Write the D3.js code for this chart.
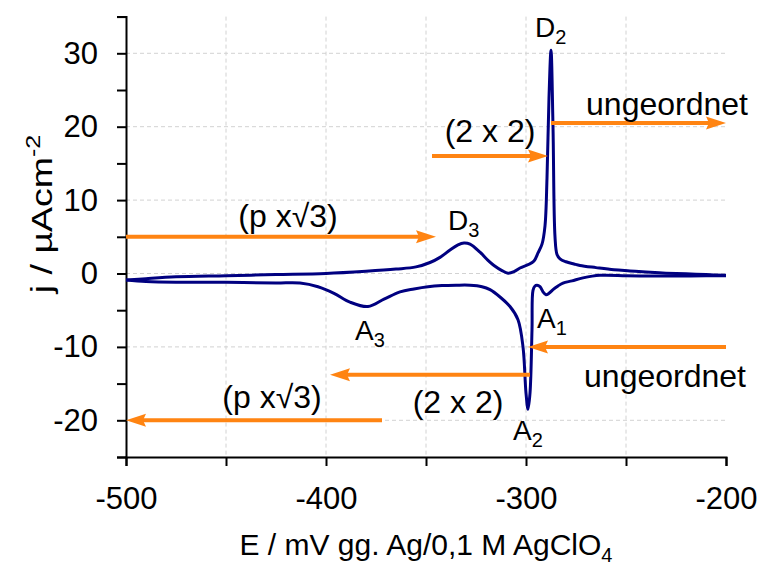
<!DOCTYPE html>
<html>
<head>
<meta charset="utf-8">
<script src="https://cdn.jsdelivr.net/npm/d3@7"></script>
<style>
  body { margin: 0; background: #fff; }
  svg { display: block; }
  text { font-family: "Liberation Sans", Arial, sans-serif; fill: #000; }
</style>
</head>
<body>
<svg id="chart" width="758" height="566"></svg>
<script>
// anodic sweep (-500 -> -200)
const anodicE = [-500, -490, -475, -450, -425, -400, -380, -365, -355, -348, -343, -338, -334, -331, -328, -323, -319, -316, -312, -309, -306, -303, -299, -296, -294, -292, -290.5, -289.5, -288.5, -287.5, -286.5, -285.5, -284.5, -283, -280, -276, -273, -265, -256, -248, -240, -230, -220, -210, -200]
const anodicJ = [-0.9, -0.7, -0.45, -0.3, -0.15, 0, 0.3, 0.6, 0.9, 1.5, 2.2, 3.2, 3.9, 4.15, 4.0, 2.9, 1.8, 1.1, 0.4, 0.05, 0.25, 0.75, 1.2, 1.7, 2.8, 4.0, 6.5, 13, 24, 30.4, 20, 5, 2.6, 2.0, 1.6, 1.3, 1.1, 0.8, 0.5, 0.35, 0.2, 0.05, -0.05, -0.15, -0.25]

// cathodic sweep (-200 -> -500)
const cathodicE = [-200, -210, -220, -230, -240, -250, -263, -271.5, -277, -281.5, -284, -286.5, -288.5, -290, -291.5, -293, -294.5, -295.5, -296.5, -297, -298, -299, -300, -301.5, -304, -308, -313, -318, -322, -328, -335, -342, -349, -356, -363, -371, -379, -388, -396, -404, -413, -425, -450, -475, -490, -500]
const cathodicJ = [-0.3, -0.32, -0.35, -0.35, -0.35, -0.3, -0.25, -0.6, -1.0, -1.3, -1.7, -2.2, -2.7, -2.9, -2.5, -1.8, -1.6, -1.7, -2.3, -7.7, -16.3, -18.5, -16.3, -10, -6.3, -4.5, -3.2, -2.2, -1.8, -1.6, -1.6, -1.65, -1.8, -2.1, -2.5, -3.5, -4.5, -3.9, -2.7, -1.8, -1.3, -1.3, -1.2, -1.2, -1.1, -0.9]

// orange arrows: from -> to at a given j
const arrowFrom = [-500, -372, -347, -287.5, -200, -298]
const arrowTo = [-345, -500, -289, -200, -299, -398]
const arrowJ = [5, -20, 16, 20.5, -10, -13.8]

// phase labels
const phaseText = ['(p x\u221A3)', '(p x\u221A3)', '(2 x 2)', 'ungeordnet', 'ungeordnet', '(2 x 2)']
const phaseE = [-419, -427, -318, -229.5, -230.5, -334]
const phaseJ = [6.3, -18.3, 17.9, 21.6, -15.5, -19]

// peak labels
const peakName = ['D', 'D', 'A', 'A', 'A']
const peakSub = ['2', '3', '1', '2', '3']
const peakE = [-295.5, -339, -294.5, -306.5, -385.5]
const peakJ = [32.2, 5.9, -7.4, -22.7, -9.05]

const xTicks = [-500, -450, -400, -350, -300, -250, -200]
const yTicks = [-25, -20, -15, -10, -5, 0, 5, 10, 15, 20, 25, 30, 35]

const svg = d3.select('#chart')

const x = d3.scaleLinear().domain([-500, -200]).range([126, 726])
const y = d3.scaleLinear().domain([-25, 35]).range([457, 16.6])

// dashed grid
svg.append('g')
  .selectAll('line')
  .data(xTicks.slice(1, -1))
  .join('line')
  .attr('x1', d => x(d)).attr('x2', d => x(d))
  .attr('y1', y(35)).attr('y2', y(-25))
  .attr('stroke', '#d2d2d2').attr('stroke-dasharray', '4,3')

svg.append('g')
  .selectAll('line')
  .data(yTicks.filter(d => d % 10 === 0 && d > -25))
  .join('line')
  .attr('x1', x(-500)).attr('x2', x(-200))
  .attr('y1', d => y(d)).attr('y2', d => y(d))
  .attr('stroke', '#d2d2d2').attr('stroke-dasharray', '4,3')

// axes
const xAxis = svg.append('g')
  .attr('transform', `translate(0,${y(-25)})`)
  .call(d3.axisBottom(x).tickValues(xTicks).tickSize(9).tickPadding(21)
    .tickFormat(d => d % 100 === 0 ? String(d) : ''))

const yAxis = svg.append('g')
  .attr('transform', `translate(${x(-500)},0)`)
  .call(d3.axisLeft(y).tickValues(yTicks).tickSize(9).tickPadding(19)
    .tickFormat(d => d % 10 === 0 && d > -25 && d < 35 ? String(d) : ''))

for (const ax of [xAxis, yAxis]) {
  ax.select('.domain').attr('stroke', '#000').attr('stroke-width', 2)
  ax.selectAll('.tick line').attr('stroke', '#000').attr('stroke-width', 2)
  ax.selectAll('.tick text').attr('font-size', 31)
    .attr('font-family', '"Liberation Sans", Arial, sans-serif')
}

// axis titles
const xt = svg.append('text')
  .attr('x', (x(-500) + x(-200)) / 2).attr('y', 555)
  .attr('text-anchor', 'middle').attr('font-size', 30)
xt.append('tspan').text('E / mV gg. Ag/0,1 M AgClO')
xt.append('tspan').text('4').attr('font-size', 20).attr('dy', 7)

const yt = svg.append('text')
  .attr('transform', 'translate(52,214) rotate(-90) scale(1.25,1)')
  .attr('text-anchor', 'middle').attr('font-size', 30)
yt.append('tspan').text('j / \u00B5Acm')
yt.append('tspan').text('-2').attr('font-size', 20).attr('dy', -12)

// voltammogram
const line = d3.line().x(d => x(d[0])).y(d => y(d[1])).curve(d3.curveCatmullRom)

svg.append('path')
  .datum(anodicE.map((e, i) => [e, anodicJ[i]]))
  .attr('d', line)
  .attr('fill', 'none').attr('stroke', '#000080').attr('stroke-width', 3)
  .attr('stroke-linejoin', 'round')

svg.append('path')
  .datum(cathodicE.map((e, i) => [e, cathodicJ[i]]))
  .attr('d', line)
  .attr('fill', 'none').attr('stroke', '#000080').attr('stroke-width', 3)
  .attr('stroke-linejoin', 'round')

// arrows
const orange = '#ff8412'
const arrows = arrowFrom.map((f, i) => ({ f, t: arrowTo[i], j: arrowJ[i] }))
const ag = svg.append('g')
arrows.forEach(a => {
  const x1 = x(a.f), x2 = x(a.t), yy = y(a.j)
  const dir = Math.sign(x2 - x1)
  const head = 20
  ag.append('line')
    .attr('x1', x1).attr('x2', x2 - dir * head * 0.8)
    .attr('y1', yy).attr('y2', yy)
    .attr('stroke', orange).attr('stroke-width', 4)
  ag.append('path')
    .attr('d', `M${x2},${yy}L${x2 - dir * head},${yy - 6.5}L${x2 - dir * head * 0.85},${yy}L${x2 - dir * head},${yy + 6.5}Z`)
    .attr('fill', orange)
})

// phase labels
svg.append('g')
  .selectAll('text')
  .data(phaseText)
  .join('text')
  .attr('x', (d, i) => x(phaseE[i])).attr('y', (d, i) => y(phaseJ[i]))
  .attr('text-anchor', 'middle').attr('font-size', 32)
  .text(d => d)

// peak labels
peakName.forEach((n, i) => {
  const t = svg.append('text')
    .attr('x', x(peakE[i])).attr('y', y(peakJ[i]))
    .attr('font-size', 28)
  t.append('tspan').text(n)
  t.append('tspan').text(peakSub[i]).attr('font-size', 20).attr('dy', 7)
})
</script>
</body>
</html>
